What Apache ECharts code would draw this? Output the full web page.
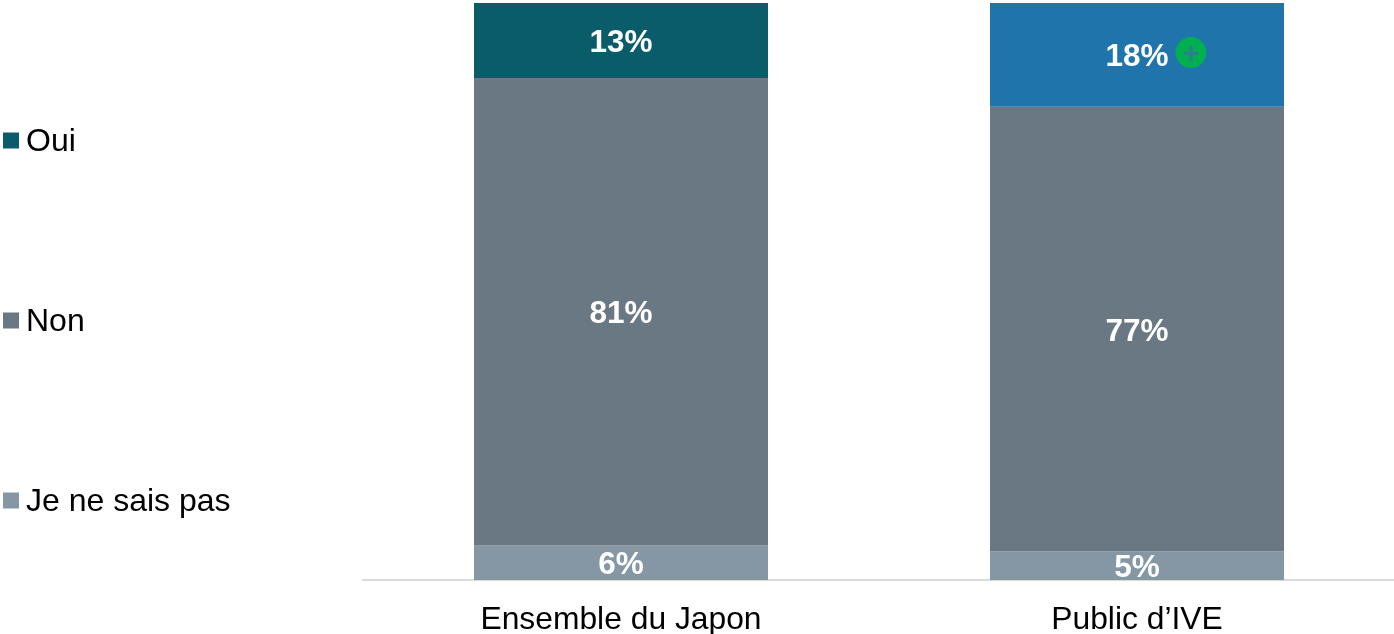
<!DOCTYPE html>
<html><head><meta charset="utf-8">
<style>html,body{margin:0;padding:0;background:#fff}#c{width:1394px;height:634px}</style>
<script src="https://cdn.jsdelivr.net/npm/echarts@6/dist/echarts.min.js"></script>
</head><body><div id="c"></div>
<script>
const categories = ['Ensemble du Japon', 'Public d’IVE'];
const oui = [13, 18];
const non = [81, 77];
const nsp = [6, 5];
const FONT = '"Liberation Sans", Arial, sans-serif';
const label = {show:true, position:'inside', color:'#fff', fontFamily:FONT, fontWeight:'bold', fontSize:31.5, formatter:'{c}%', offset:[0,3]};
const chart = echarts.init(document.getElementById('c'), null, {renderer:'canvas'});
chart.setOption({
  animation:false,
  backgroundColor:'#fff',
  grid:{left:363, top:3, width:1032, height:577, containLabel:false, outerBoundsMode:'none'},
  legend:{
    orient:'vertical', left:3, top:123, padding:0, itemWidth:16, itemHeight:16, itemGap:145,
    data:['Oui','Non','Je ne sais pas'],
    icon:'rect',
    formatter:'{t|{name}}',
    textStyle:{rich:{t:{fontFamily:FONT, fontSize:32, color:'#000', lineHeight:32, padding:[3,0,0,2]}}}
  },
  xAxis:{type:'category', data:categories,
    axisLine:{lineStyle:{color:'#d9d9d9', width:2}}, axisTick:{show:false},
    axisLabel:{fontFamily:FONT, fontSize:31.8, color:'#000', margin:24}},
  yAxis:{type:'value', min:0, max:100, show:false, splitLine:{show:false}},
  series:[
    {name:'Je ne sais pas', type:'bar', stack:'a', barWidth:294, data:nsp,
     itemStyle:{color:'#8597A5'}, label},
    {name:'Non', type:'bar', stack:'a', data:non, itemStyle:{color:'#697882'}, label},
    {name:'Oui', type:'bar', stack:'a',
     data:oui.map((v,i)=> i===1 ? {value:v, itemStyle:{color:'#1F74AB'}, label:{offset:[0,2]}} : v),
     itemStyle:{color:'#0A5C6B'}, label,
     markPoint:{
       symbol:'circle', symbolSize:31, symbolOffset:[54,0],
       itemStyle:{color:'#00B050'},
       label:{show:true, formatter:'+', color:'#2C7F8C', fontFamily:FONT, fontWeight:'bold', fontSize:30, offset:[0,2]},
       data:[{coord:[categories[1], 91.4]}]
     }}
  ]
});
</script></body></html>
